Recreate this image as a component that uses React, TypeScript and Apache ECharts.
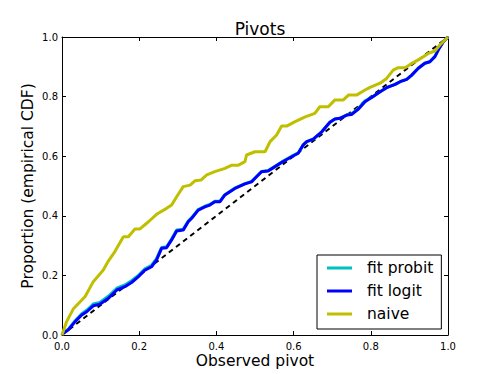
import React, { useEffect, useRef } from "react";
import * as echarts from "echarts";

const titleText = "Pivots";
const xName = "Observed pivot";
const yName = "Proportion (empirical CDF)";
const ticks = [0, 0.2, 0.4, 0.6, 0.8, 1.0];
const seriesNames = ["fit probit", "fit logit", "naive"];

const diagonal: number[][] = [[0, 0], [1, 1]];

const fitProbit: number[][] = [
  [0, 0], [0.003, 0.007], [0.016, 0.019], [0.034, 0.048], [0.051, 0.071], [0.064, 0.083],
  [0.081, 0.104], [0.098, 0.109], [0.12, 0.13], [0.142, 0.157], [0.163, 0.168], [0.181, 0.183],
  [0.198, 0.2], [0.215, 0.222], [0.232, 0.234], [0.245, 0.256], [0.258, 0.294], [0.271, 0.296],
  [0.284, 0.322], [0.297, 0.352], [0.314, 0.355], [0.327, 0.382], [0.336, 0.394], [0.353, 0.421],
  [0.37, 0.432], [0.383, 0.438], [0.396, 0.449], [0.409, 0.449], [0.422, 0.471], [0.448, 0.493],
  [0.474, 0.508], [0.491, 0.515], [0.504, 0.532], [0.517, 0.549], [0.534, 0.552], [0.552, 0.566],
  [0.573, 0.584], [0.595, 0.6], [0.612, 0.611], [0.625, 0.638], [0.634, 0.649], [0.651, 0.657],
  [0.673, 0.682], [0.694, 0.714], [0.707, 0.725], [0.72, 0.727], [0.738, 0.739], [0.75, 0.742],
  [0.768, 0.76], [0.785, 0.786], [0.806, 0.8], [0.824, 0.816], [0.841, 0.83], [0.863, 0.841],
  [0.876, 0.85], [0.893, 0.858], [0.906, 0.872], [0.923, 0.895], [0.94, 0.912], [0.953, 0.917],
  [0.966, 0.934], [0.977, 0.962], [0.988, 0.984], [1, 1],
];

const fitLogit: number[][] = [
  [0, 0], [0.003, 0.006], [0.016, 0.017], [0.034, 0.045], [0.051, 0.067], [0.064, 0.078],
  [0.081, 0.098], [0.098, 0.103], [0.12, 0.123], [0.142, 0.151], [0.163, 0.162], [0.181, 0.177],
  [0.198, 0.196], [0.215, 0.218], [0.232, 0.229], [0.245, 0.252], [0.258, 0.291], [0.271, 0.293],
  [0.284, 0.319], [0.297, 0.349], [0.314, 0.352], [0.327, 0.38], [0.336, 0.392], [0.353, 0.419],
  [0.37, 0.43], [0.383, 0.436], [0.396, 0.447], [0.409, 0.447], [0.422, 0.47], [0.448, 0.492],
  [0.474, 0.507], [0.491, 0.514], [0.504, 0.531], [0.517, 0.548], [0.534, 0.55], [0.552, 0.565],
  [0.573, 0.582], [0.595, 0.598], [0.612, 0.61], [0.625, 0.638], [0.634, 0.649], [0.651, 0.657],
  [0.673, 0.682], [0.694, 0.714], [0.707, 0.725], [0.72, 0.727], [0.738, 0.738], [0.75, 0.74],
  [0.768, 0.758], [0.785, 0.783], [0.806, 0.8], [0.824, 0.816], [0.841, 0.83], [0.863, 0.841],
  [0.876, 0.85], [0.893, 0.858], [0.906, 0.872], [0.923, 0.895], [0.94, 0.912], [0.953, 0.917],
  [0.966, 0.934], [0.977, 0.962], [0.988, 0.984], [1, 1],
];

const naive: number[][] = [
  [0, 0], [0.012, 0.045], [0.029, 0.087], [0.06, 0.129], [0.081, 0.179], [0.107, 0.218],
  [0.12, 0.248], [0.137, 0.28], [0.159, 0.33], [0.172, 0.33], [0.189, 0.356], [0.202, 0.356],
  [0.224, 0.38], [0.245, 0.405], [0.271, 0.425], [0.284, 0.436], [0.297, 0.464], [0.314, 0.498],
  [0.332, 0.503], [0.345, 0.518], [0.36, 0.52], [0.375, 0.537], [0.396, 0.548], [0.422, 0.559],
  [0.44, 0.57], [0.457, 0.57], [0.474, 0.582], [0.478, 0.604], [0.5, 0.615], [0.526, 0.615],
  [0.539, 0.649], [0.556, 0.671], [0.569, 0.701], [0.582, 0.701], [0.604, 0.716], [0.63, 0.732],
  [0.655, 0.744], [0.668, 0.766], [0.69, 0.766], [0.707, 0.789], [0.729, 0.789], [0.742, 0.805],
  [0.763, 0.805], [0.785, 0.822], [0.798, 0.831], [0.824, 0.845], [0.841, 0.861], [0.858, 0.889],
  [0.871, 0.897], [0.889, 0.897], [0.902, 0.908], [0.932, 0.93], [0.949, 0.945], [0.966, 0.953],
  [0.979, 0.973], [1, 1],
];

const FONT = "DejaVu Sans";

export default function App() {
  const ref = useRef<HTMLDivElement>(null);
  useEffect(() => {
    if (!ref.current) return;
    const chart = echarts.init(ref.current, undefined, { renderer: "svg" });
    const axisCommon = {
      type: "value" as const,
      min: 0,
      max: 1,
      interval: 0.2,
      splitLine: { show: false },
      axisLine: { show: true, onZero: false, lineStyle: { color: "#000", width: 1 } },
      axisTick: { show: true, inside: true, length: 4, lineStyle: { color: "#000", width: 1 } },
    };
    const lbl = (v: number) => {
      const f = ticks.find((t) => Math.abs(t - v) < 1e-9);
      return f === undefined ? "" : f.toFixed(1);
    };
    chart.setOption({
      animation: false,
      backgroundColor: "#fff",
      title: {
        text: titleText,
        left: 255,
        textAlign: "center",
        top: 15,
        textStyle: { fontFamily: FONT, fontSize: 17, fontWeight: "normal", color: "#000" },
      },
      grid: { left: 62, top: 37, width: 386, height: 298 },
      xAxis: [
        {
          ...axisCommon,
          position: "bottom",
          name: xName,
          nameLocation: "middle",
          nameGap: 18,
          nameMoveOverlap: false,
          nameTextStyle: { fontFamily: FONT, fontSize: 15.5, color: "#000", verticalAlign: "top" },
          axisLabel: { fontFamily: FONT, fontSize: 10, color: "#000", margin: 6, formatter: lbl },
        },
        {
          ...axisCommon,
          position: "top",
          axisLabel: { show: false },
        },
      ],
      yAxis: [
        {
          ...axisCommon,
          position: "left",
          name: yName,
          nameLocation: "middle",
          nameGap: 26,
          nameMoveOverlap: false,
          nameTextStyle: { fontFamily: FONT, fontSize: 15.5, color: "#000" },
          axisLabel: { fontFamily: FONT, fontSize: 10, color: "#000", margin: 4, formatter: lbl },
        },
        {
          ...axisCommon,
          position: "right",
          axisLabel: { show: false },
        },
      ],
      legend: {
        orient: "vertical",
        left: 317,
        top: 255,
        data: seriesNames,
        icon: "rect",
        itemWidth: 25,
        itemHeight: 3,
        itemGap: 5,
        padding: [4, 8, 6, 10],
        borderColor: "#000",
        borderWidth: 1,
        borderRadius: 0,
        backgroundColor: "#fff",
        textStyle: { fontFamily: FONT, fontSize: 15.5, color: "#000", lineHeight: 18, padding: [0, 0, 0, 10] },
      },
      series: [
        {
          type: "line",
          name: "diag",
          data: diagonal,
          symbol: "none",
          lineStyle: { color: "#000", width: 2, type: [5, 4] },
          z: 1,
        },
        {
          type: "line",
          name: seriesNames[0],
          data: fitProbit,
          symbol: "none",
          itemStyle: { color: "#00bfbf" },
          lineStyle: { color: "#00bfbf", width: 3 },
          z: 2,
        },
        {
          type: "line",
          name: seriesNames[1],
          data: fitLogit,
          symbol: "none",
          itemStyle: { color: "#0000ff" },
          lineStyle: { color: "#0000ff", width: 3 },
          z: 3,
        },
        {
          type: "line",
          name: seriesNames[2],
          data: naive,
          symbol: "none",
          itemStyle: { color: "#bfbf00" },
          lineStyle: { color: "#bfbf00", width: 3 },
          z: 4,
        },
      ],
    });
    return () => chart.dispose();
  }, []);
  return <div ref={ref} style={{ width: 498, height: 374, position: "absolute", left: 0, top: 0 }} />;
}
